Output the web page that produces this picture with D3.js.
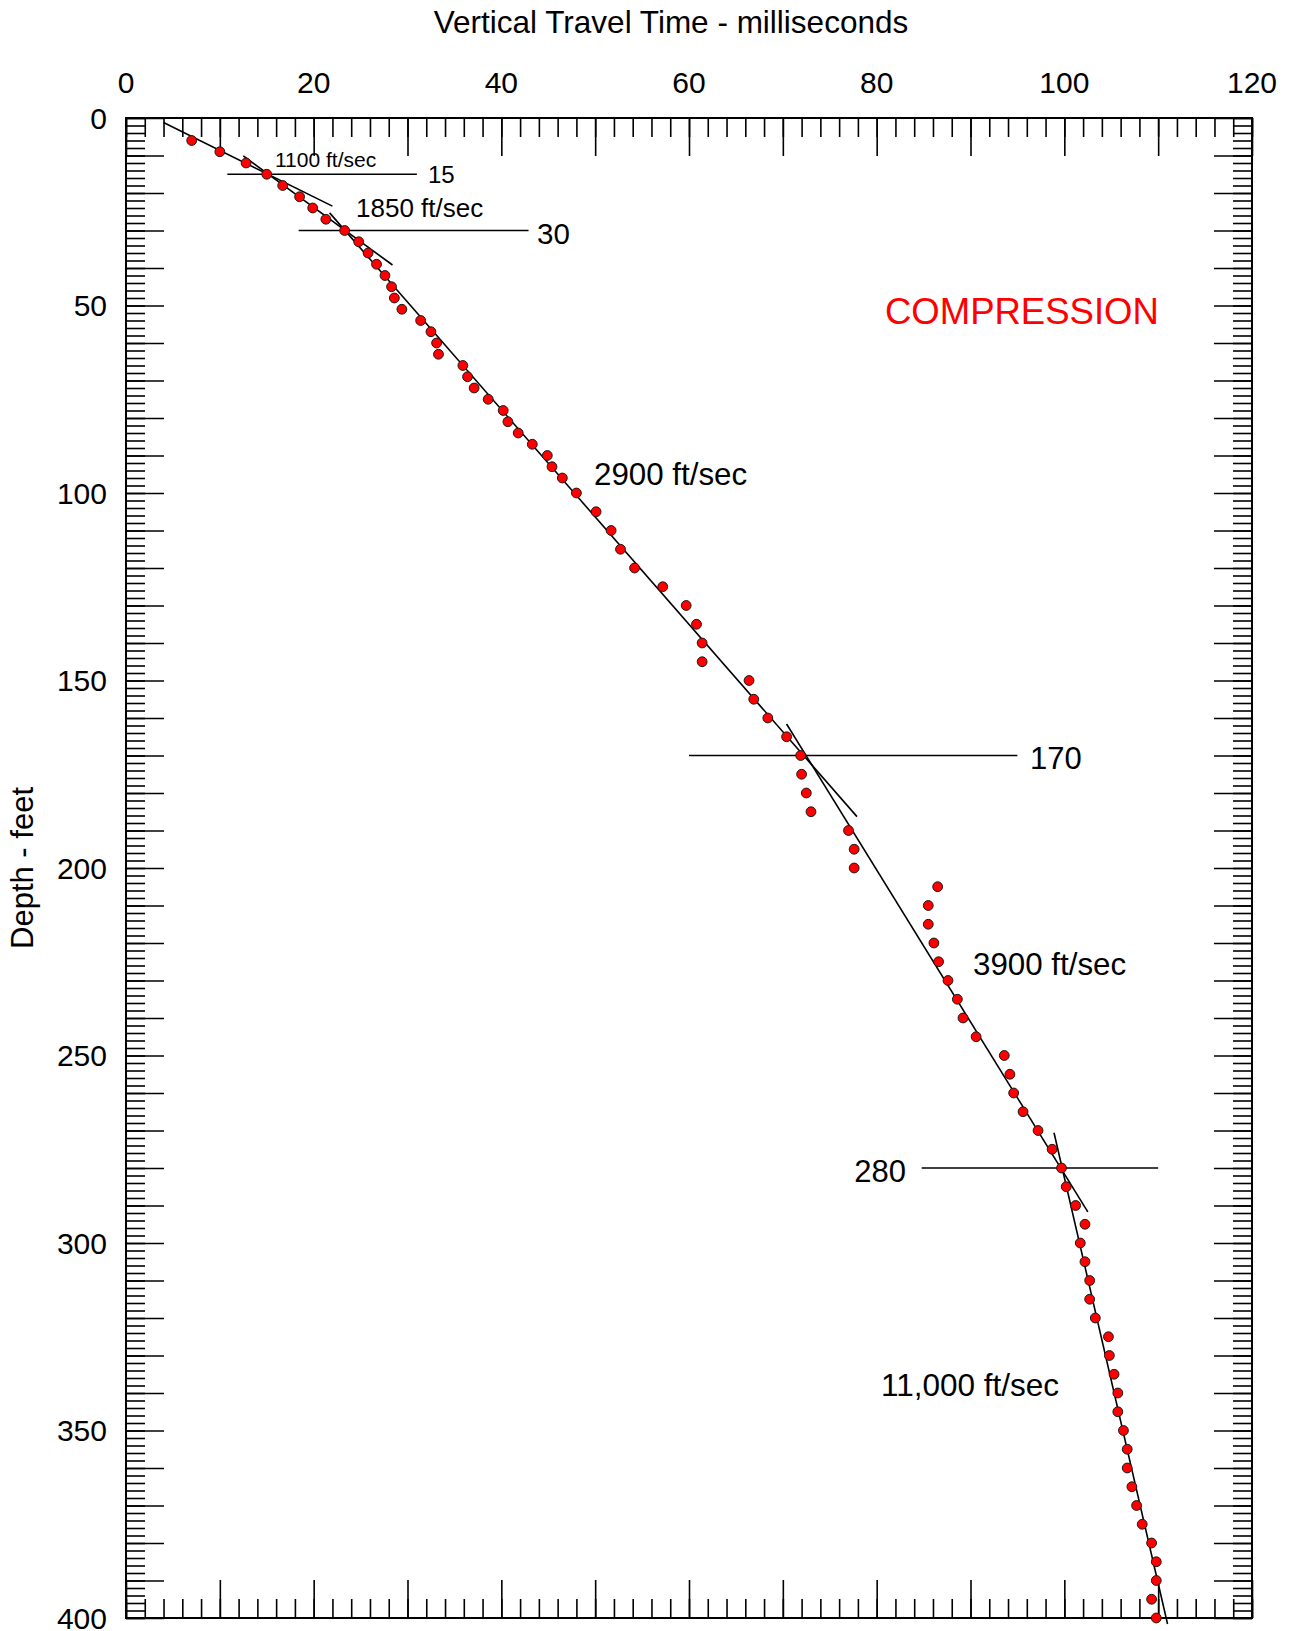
<!DOCTYPE html>
<html>
<head>
<meta charset="utf-8">
<script src="https://cdn.jsdelivr.net/npm/d3@7"></script>
<style>
  html, body { margin: 0; padding: 0; background: #fff; }
  svg { display: block; font-family: "Liberation Sans", Arial, sans-serif; }
</style>
</head>
<body>
<svg id="chart" width="1291" height="1631"></svg>
<script>
// ---------------- DATA ----------------
const depthFeet = [6,9,12,15,18,21,24,27,30,33,36,39,42,45,48,51,54,57,60,63,66,69,72,75,78,81,84,87,90,93,96,
  100,105,110,115,120,125,130,135,140,145,150,155,160,165,170,175,180,185,190,195,200,
  205,210,215,220,225,230,235,240,245,250,255,260,265,270,275,280,285,290,295,300,
  305,310,315,320,325,330,335,340,345,350,355,360,365,370,375,380,385,390,395,400];
const travelTimeMs = [7.0,10.0,12.8,15.0,16.7,18.5,19.9,21.3,23.3,24.8,25.8,26.7,27.6,28.3,28.6,29.4,31.4,32.5,33.1,33.3,35.9,36.4,37.1,38.6,40.2,40.7,41.8,43.3,44.9,45.4,46.5,
  48.0,50.1,51.7,52.7,54.2,57.2,59.7,60.8,61.4,61.4,66.4,66.9,68.4,70.4,71.9,72.0,72.5,73.0,77.0,77.6,77.6,
  86.5,85.5,85.5,86.1,86.6,87.6,88.6,89.2,90.6,93.6,94.2,94.6,95.6,97.2,98.7,99.7,100.2,101.2,102.2,101.7,
  102.2,102.7,102.7,103.3,104.7,104.8,105.3,105.7,105.7,106.3,106.7,106.7,107.2,107.7,108.3,109.3,109.8,109.8,109.3,109.8];

// velocity fit lines: [ms, ft] endpoints
const fit1100 = [[4.0, 1.2], [22.0, 23.5]];
const fit1850 = [[12.5, 10.1], [28.4, 39.2]];
const fit2900 = [[21.7, 25.3], [77.9, 186.3]];
const fit3900 = [[70.4, 161.6], [102.5, 291.7]];
const fit11000 = [[98.9, 270.6], [111.0, 401.6]];
const fitLines = [fit1100, fit1850, fit2900, fit3900, fit11000];

// layer boundaries: depth, from ms, to ms
const boundaryDepths = [15, 30, 170, 280];
const boundaryFrom = [10.8, 18.4, 60, 84.8];
const boundaryTo = [31.0, 42.9, 95, 110];
const boundaryLabels = ["15", "30", "170", "280"];

const velocityLabels = ["1100 ft/sec", "1850 ft/sec", "2900 ft/sec", "3900 ft/sec", "11,000 ft/sec"];

const xTickLabels = [0, 20, 40, 60, 80, 100, 120];
const yTickLabels = [0, 50, 100, 150, 200, 250, 300, 350, 400];
const xMinorTicks = d3.range(0, 121, 2);
const xMajorTicks = d3.range(0, 121, 10);
const yMinorTicks = d3.range(0, 401, 2);
const yMajorTicks = d3.range(0, 401, 10);

// ---------------- LAYOUT ----------------
const L = 126, R = 1252, T = 118, B = 1618;
const svg = d3.select("#chart");
const x = d3.scaleLinear().domain([0, 120]).range([L, R]);
const y = d3.scaleLinear().domain([0, 400]).range([T, B]);

const minorLen = 19, majorLen = 38;

function styleAxis(g) {
  g.select(".domain").remove();
  g.selectAll("line").attr("stroke", "#000").attr("stroke-width", 1.6);
  g.selectAll("text").remove();
}

// top (ticks pointing down into plot)
svg.append("g").attr("transform", `translate(0,${T})`)
  .call(d3.axisBottom(x).tickValues(xMinorTicks).tickSize(minorLen)).call(styleAxis);
svg.append("g").attr("transform", `translate(0,${T})`)
  .call(d3.axisBottom(x).tickValues(xMajorTicks).tickSize(majorLen)).call(styleAxis);
// bottom (ticks pointing up)
svg.append("g").attr("transform", `translate(0,${B})`)
  .call(d3.axisTop(x).tickValues(xMinorTicks).tickSize(minorLen)).call(styleAxis);
svg.append("g").attr("transform", `translate(0,${B})`)
  .call(d3.axisTop(x).tickValues(xMajorTicks).tickSize(majorLen)).call(styleAxis);
// left (ticks pointing right)
svg.append("g").attr("transform", `translate(${L},0)`)
  .call(d3.axisRight(y).tickValues(yMinorTicks).tickSize(minorLen)).call(styleAxis);
svg.append("g").attr("transform", `translate(${L},0)`)
  .call(d3.axisRight(y).tickValues(yMajorTicks).tickSize(majorLen)).call(styleAxis);
// right (ticks pointing left)
svg.append("g").attr("transform", `translate(${R},0)`)
  .call(d3.axisLeft(y).tickValues(yMinorTicks).tickSize(minorLen)).call(styleAxis);
svg.append("g").attr("transform", `translate(${R},0)`)
  .call(d3.axisLeft(y).tickValues(yMajorTicks).tickSize(majorLen)).call(styleAxis);

// frame
svg.append("rect").attr("x", L).attr("y", T).attr("width", R - L).attr("height", B - T)
  .attr("fill", "none").attr("stroke", "#000").attr("stroke-width", 2);

// tick labels
svg.append("g").selectAll("text").data(xTickLabels).join("text")
  .attr("x", d => x(d)).attr("y", 93).attr("text-anchor", "middle")
  .attr("font-size", 30).text(d => d);
svg.append("g").selectAll("text").data(yTickLabels).join("text")
  .attr("x", 107).attr("y", d => y(d) + 10.5).attr("text-anchor", "end")
  .attr("font-size", 30).text(d => d);

// axis titles
svg.append("text").attr("x", 671).attr("y", 33).attr("text-anchor", "middle")
  .attr("font-size", 31.5).text("Vertical Travel Time - milliseconds");
svg.append("text").attr("transform", `translate(33,${(T + B) / 2}) rotate(-90)`)
  .attr("text-anchor", "middle").attr("font-size", 31).text("Depth - feet");

// boundary lines
const bData = boundaryDepths.map((d, i) => ({ d, x0: boundaryFrom[i], x1: boundaryTo[i], label: boundaryLabels[i] }));
svg.append("g").selectAll("line").data(bData).join("line")
  .attr("x1", d => x(d.x0)).attr("x2", d => x(d.x1))
  .attr("y1", d => y(d.d)).attr("y2", d => y(d.d))
  .attr("stroke", "#000").attr("stroke-width", 1.6);

// fit lines
const lineGen = d3.line().x(d => x(d[0])).y(d => y(d[1]));
svg.append("g").selectAll("path").data(fitLines).join("path")
  .attr("d", lineGen).attr("fill", "none").attr("stroke", "#000").attr("stroke-width", 1.6);

// data points
const pts = depthFeet.map((d, i) => ({ d, t: travelTimeMs[i] }));
svg.append("g").selectAll("circle").data(pts).join("circle")
  .attr("cx", p => x(p.t)).attr("cy", p => y(p.d)).attr("r", 4.9)
  .attr("fill", "#ff0000").attr("stroke", "#1a1a1a").attr("stroke-width", 1);

// boundary labels
const bLabelPos = [
  { x: 428, y: 183, size: 24, anchor: "start" },
  { x: 537, y: 244, size: 29.5, anchor: "start" },
  { x: 1030, y: 769, size: 31, anchor: "start" },
  { x: 906, y: 1181.5, size: 31, anchor: "end" }
];
svg.append("g").selectAll("text").data(bData).join("text")
  .attr("x", (d, i) => bLabelPos[i].x).attr("y", (d, i) => bLabelPos[i].y)
  .attr("font-size", (d, i) => bLabelPos[i].size).attr("text-anchor", (d, i) => bLabelPos[i].anchor)
  .text(d => d.label);

// velocity labels
const vLabelPos = [
  { x: 275, y: 166.5, size: 21 },
  { x: 356, y: 216.5, size: 26 },
  { x: 594, y: 484.5, size: 31.3 },
  { x: 973, y: 975, size: 31.3 },
  { x: 881, y: 1395.5, size: 31.5 }
];
svg.append("g").selectAll("text").data(velocityLabels).join("text")
  .attr("x", (d, i) => vLabelPos[i].x).attr("y", (d, i) => vLabelPos[i].y)
  .attr("font-size", (d, i) => vLabelPos[i].size).text(d => d);

// COMPRESSION
svg.append("text").attr("x", 885).attr("y", 323.5).attr("font-size", 36.5)
  .attr("fill", "#ff0000").text("COMPRESSION");
</script>
</body>
</html>
